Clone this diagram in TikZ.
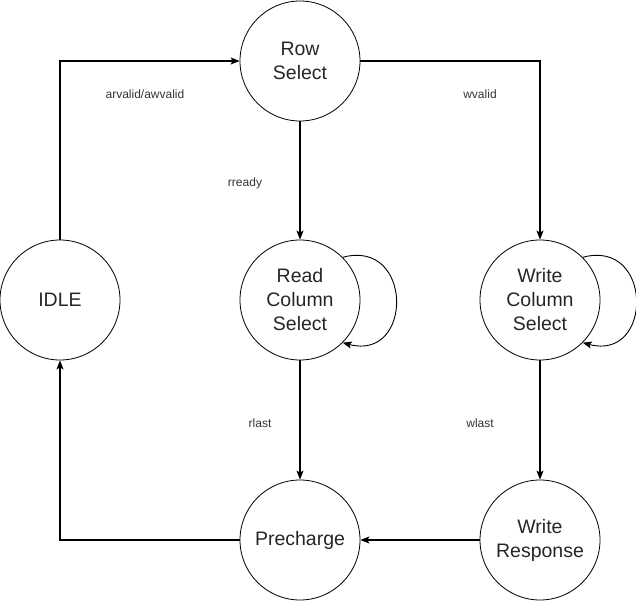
\documentclass[tikz,border=0pt]{standalone}
\usepackage{fontspec}
\setmainfont{Liberation Sans}
\usetikzlibrary{arrows.meta}

\begin{document}
\begin{tikzpicture}[x=1pt, y=-1pt, state/.style={circle, draw, minimum size=120pt,
    inner sep=0pt, align=center, line width=0.8pt, text=black!85,
    font=\fontsize{19.5}{24}\selectfont},
    cond/.style={font=\fontsize{12}{14}\selectfont, text=black!80},
    >={Stealth[length=9pt,width=7pt,inset=2pt]}, line width=1.1pt]
  \useasboundingbox (0,0) rectangle (636,601);
  \node[state] (idle) at (60,300) {IDLE};
  \node[state] (row) at (300,61) {Row\\Select};
  \node[state] (rcs) at (300,300) {Read\\Column\\Select};
  \node[state] (wcs) at (540,300) {Write\\Column\\Select};
  \node[state] (pre) at (300,540) {Precharge};
  \node[state] (wresp) at (540,540) {Write\\Response};
  \node[cond] (c1) at (145,94) {arvalid/awvalid};
  \node[cond] (c2) at (480,94) {wvalid};
  \node[cond] (c3) at (245,183) {rready};
  \node[cond] (c4) at (260,423) {rlast};
  \node[cond] (c5) at (480,423) {wlast};
  \draw[->] (idle) |- (row);
  \draw[->] (row) -| (wcs);
  \draw[->] (row) -- (rcs);
  \draw[->] (rcs) -- (pre);
  \draw[->] (wcs) -- (wresp);
  \draw[->] (wresp) -- (pre);
  \draw[->] (pre) -| (idle);
  \draw[->, line width=0.9pt] (rcs.45) to[out=15, in=-15, looseness=2.2] (rcs.-45);
  \draw[->, line width=0.9pt] (wcs.45) to[out=15, in=-15, looseness=2.2] (wcs.-45);
\end{tikzpicture}
\end{document}
